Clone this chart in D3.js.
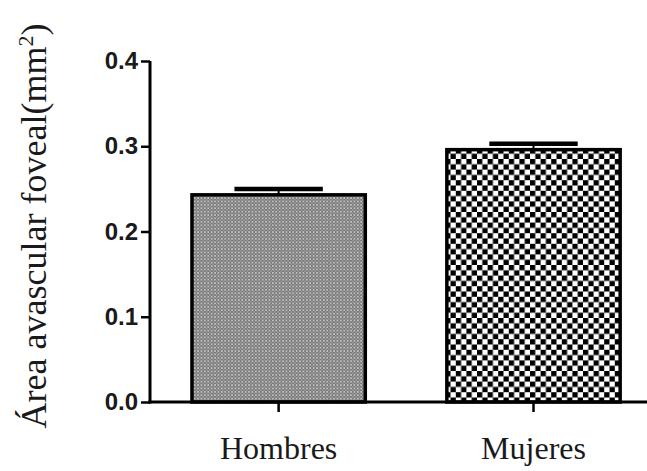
<!DOCTYPE html>
<html>
<head>
<meta charset="utf-8">
<script src="https://cdn.jsdelivr.net/npm/d3@7"></script>
<style>
  body { margin: 0; background: #fff; }
  svg { display: block; }
</style>
</head>
<body>
<div id="chart"></div>
<script>
var categories = ["Hombres", "Mujeres"];
var means = [0.243, 0.296];
var sems = [0.007, 0.007];
var yTicks = [0, 0.1, 0.2, 0.3, 0.4];
var yLabel = "Área avascular foveal(mm";

var width = 647, height = 471;

var svg = d3.select("#chart")
  .append("svg")
  .attr("width", width)
  .attr("height", height);

// patterns for the two bars
var defs = svg.append("defs");

var fine = defs.append("pattern")
  .attr("id", "fine")
  .attr("patternUnits", "userSpaceOnUse")
  .attr("width", 3.4).attr("height", 3.4);
fine.append("rect").attr("width", 3.4).attr("height", 3.4).attr("fill", "#767676");
fine.append("rect").attr("width", 1.7).attr("height", 1.7).attr("fill", "#c4c4c4");
fine.append("rect").attr("x", 1.7).attr("y", 1.7).attr("width", 1.7).attr("height", 1.7).attr("fill", "#9a9a9a");

var checker = defs.append("pattern")
  .attr("id", "checker")
  .attr("patternUnits", "userSpaceOnUse")
  .attr("width", 10.6).attr("height", 10.6);
checker.append("rect").attr("width", 10.6).attr("height", 10.6).attr("fill", "#fff");
checker.append("rect").attr("width", 5.3).attr("height", 5.3).attr("fill", "#000");
checker.append("rect").attr("x", 5.3).attr("y", 5.3).attr("width", 5.3).attr("height", 5.3).attr("fill", "#000");

var fills = ["url(#fine)", "url(#checker)"];

var x = d3.scaleBand()
  .domain(categories)
  .range([150, 647])
  .paddingInner(0.32)
  .paddingOuter(0.135)
  .align(0.61);

var y = d3.scaleLinear().domain([0, 0.4]).range([402, 61]);

// bars
svg.selectAll(".bar")
  .data(categories)
  .enter()
  .append("rect")
  .attr("class", "bar")
  .attr("x", function (d) { return x(d); })
  .attr("y", function (d, i) { return y(means[i]); })
  .attr("width", x.bandwidth())
  .attr("height", function (d, i) { return y(0) - y(means[i]); })
  .attr("fill", function (d, i) { return fills[i]; })
  .attr("stroke", "#000")
  .attr("stroke-width", 3.5);

// error bars (upper only)
var err = svg.selectAll(".err")
  .data(categories)
  .enter()
  .append("g")
  .attr("class", "err");

err.append("line")
  .attr("x1", function (d) { return x(d) + x.bandwidth() / 2; })
  .attr("x2", function (d) { return x(d) + x.bandwidth() / 2; })
  .attr("y1", function (d, i) { return y(means[i]); })
  .attr("y2", function (d, i) { return y(means[i] + sems[i]); })
  .attr("stroke", "#000")
  .attr("stroke-width", 2);

err.append("line")
  .attr("x1", function (d) { return x(d) + x.bandwidth() * 0.245; })
  .attr("x2", function (d) { return x(d) + x.bandwidth() * 0.755; })
  .attr("y1", function (d, i) { return y(means[i] + sems[i]); })
  .attr("y2", function (d, i) { return y(means[i] + sems[i]); })
  .attr("stroke", "#000")
  .attr("stroke-width", 4.5);

// y axis
var yAxis = svg.append("g")
  .attr("transform", "translate(150,0)")
  .call(d3.axisLeft(y).tickValues(yTicks).tickFormat(d3.format(".1f")).tickSize(9).tickPadding(3));
yAxis.select(".domain").attr("stroke-width", 3).attr("d", "M0," + y(0.4) + "V" + (y(0) + 1.5));
yAxis.selectAll(".tick line").attr("stroke-width", 2.5);
yAxis.selectAll(".tick text")
  .attr("font-family", "Liberation Sans, Arial, sans-serif")
  .attr("font-weight", "bold")
  .attr("font-size", 24)
  .attr("fill", "#1a1a1a");

// x axis
var xAxis = svg.append("g")
  .attr("transform", "translate(0," + y(0) + ")")
  .call(d3.axisBottom(x).tickSize(10));
xAxis.select(".domain").attr("stroke-width", 3).attr("d", "M148.5,0H647");
xAxis.selectAll(".tick line").attr("stroke-width", 2.5);
xAxis.selectAll(".tick text")
  .attr("y", 57)
  .attr("dy", 0)
  .attr("font-family", "Liberation Serif, Times New Roman, serif")
  .attr("font-size", 32)
  .attr("fill", "#1a1a1a");

// y label
var yl = svg.append("text")
  .attr("transform", "translate(46,226) rotate(-90)")
  .attr("text-anchor", "middle")
  .attr("font-family", "Liberation Serif, Times New Roman, serif")
  .attr("font-size", 36)
  .attr("fill", "#1a1a1a")
  .text(yLabel);
yl.append("tspan").attr("dy", -13).attr("font-size", 22).text("2");
yl.append("tspan").attr("dy", 13).text(")");
</script>
</body>
</html>
